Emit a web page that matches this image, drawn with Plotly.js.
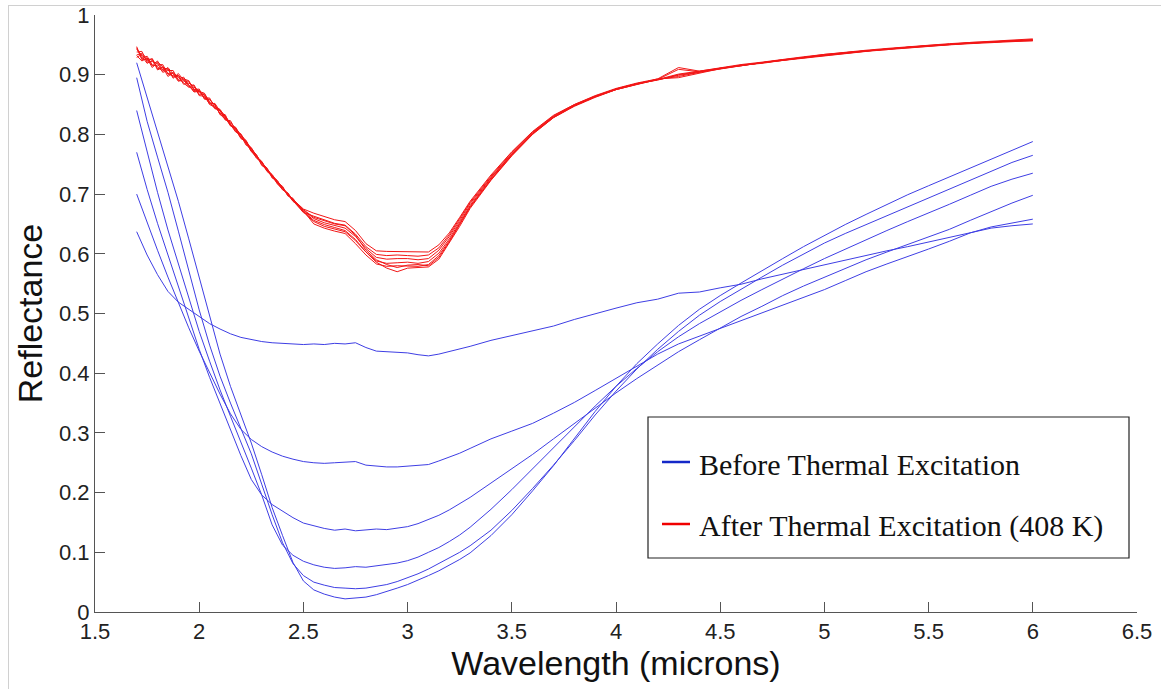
<!DOCTYPE html>
<html>
<head>
<meta charset="utf-8">
<script src="https://cdn.plot.ly/plotly-3.0.1.min.js"></script>
<style>
html,body{margin:0;padding:0;background:#fff;}
#wrap{position:relative;width:1161px;height:689px;overflow:hidden;}
#chart{position:absolute;left:0;top:0;width:1161px;height:689px;}
#frame{position:absolute;left:8px;top:5px;width:1200px;height:760px;border-left:1px solid #d0d0d0;border-top:1px solid #d0d0d0;pointer-events:none;}
</style>
</head>
<body>
<div id="wrap"><div id="chart"></div><div id="frame"></div></div>
<script>
// Wavelength grid for the "before" spectra (microns)
const wavelength = [1.70,1.75,1.80,1.85,1.90,1.95,2.00,2.05,2.10,2.15,2.20,2.25,2.30,2.35,2.40,2.45,2.50,2.55,2.60,2.65,2.70,2.75,2.80,2.85,2.90,2.95,3.00,3.05,3.10,3.15,3.20,3.25,3.30,
  3.40,3.50,3.60,3.70,3.80,3.90,4.00,4.10,4.20,4.30,4.40,4.50,4.60,4.70,4.80,4.90,5.00,5.10,5.20,5.30,5.40,5.50,5.60,5.70,5.80,5.90,6.00];

// Wavelength grid for the "after" spectra (finer where the data are noisy)
const wavelengthAfter = [1.700,1.725,1.750,1.775,1.800,1.825,1.850,1.875,1.900,1.925,1.950,1.975,2.000,2.025,2.050,2.075,2.100,2.125,2.150,2.175,2.200,2.225,2.250,2.275,2.300,2.325,2.350,2.375,2.400,2.425,2.450,2.475,2.500,
  2.55,2.60,2.65,2.70,2.75,2.80,2.85,2.90,2.95,3.00,3.05,3.10,3.15,3.20,3.25,3.30,
  3.40,3.50,3.60,3.70,3.80,3.90,4.00,4.10,4.20,4.30,4.40,4.50,4.60,4.70,4.80,4.90,5.00,5.10,5.20,5.30,5.40,5.50,5.60,5.70,5.80,5.90,6.00];

// Before thermal excitation (blue)
const before1 = [0.637,0.598,0.565,0.537,0.519,0.507,0.494,0.483,0.474,0.466,0.460,0.456,0.453,0.451,0.450,0.449,0.448,0.449,0.448,0.450,0.449,0.451,0.443,0.437,0.436,0.434,0.434,0.431,0.429,0.432,0.436,0.441,0.445,
  0.455,0.463,0.470,0.479,0.490,0.500,0.509,0.518,0.524,0.534,0.536,0.543,0.549,0.558,0.566,0.574,0.582,0.590,0.598,0.605,0.612,0.620,0.628,0.636,0.643,0.647,0.650];
const before2 = [0.700,0.652,0.606,0.561,0.517,0.476,0.437,0.400,0.365,0.332,0.306,0.289,0.277,0.268,0.261,0.256,0.252,0.250,0.249,0.250,0.251,0.252,0.246,0.244,0.243,0.243,0.244,0.245,0.247,0.253,0.259,0.266,0.274,
  0.290,0.303,0.316,0.333,0.351,0.371,0.391,0.412,0.432,0.449,0.462,0.475,0.488,0.500,0.513,0.526,0.540,0.555,0.570,0.583,0.595,0.608,0.621,0.635,0.645,0.652,0.658];
const before3 = [0.770,0.708,0.651,0.598,0.547,0.492,0.440,0.393,0.349,0.305,0.262,0.222,0.196,0.180,0.169,0.158,0.149,0.144,0.140,0.137,0.139,0.136,0.137,0.139,0.138,0.140,0.143,0.148,0.155,0.162,0.171,0.181,0.192,
  0.216,0.240,0.264,0.290,0.316,0.342,0.367,0.391,0.414,0.436,0.456,0.476,0.495,0.512,0.530,0.546,0.561,0.576,0.590,0.603,0.616,0.628,0.641,0.656,0.671,0.685,0.698];
const before4 = [0.840,0.770,0.703,0.640,0.582,0.525,0.470,0.420,0.372,0.328,0.286,0.241,0.196,0.146,0.112,0.095,0.085,0.079,0.075,0.073,0.074,0.076,0.075,0.077,0.080,0.082,0.086,0.092,0.100,0.108,0.118,0.129,0.142,
  0.172,0.205,0.240,0.275,0.310,0.345,0.378,0.408,0.436,0.461,0.483,0.503,0.522,0.540,0.558,0.575,0.592,0.608,0.624,0.639,0.654,0.668,0.683,0.698,0.713,0.725,0.735];
const before5 = [0.895,0.822,0.762,0.703,0.638,0.572,0.506,0.447,0.395,0.350,0.308,0.265,0.214,0.163,0.116,0.081,0.061,0.050,0.045,0.041,0.040,0.039,0.040,0.043,0.046,0.051,0.057,0.064,0.072,0.081,0.090,0.100,0.111,
  0.137,0.170,0.207,0.246,0.287,0.330,0.370,0.407,0.440,0.470,0.497,0.520,0.541,0.561,0.581,0.600,0.618,0.634,0.649,0.664,0.679,0.694,0.709,0.724,0.739,0.753,0.765];
const before6 = [0.920,0.862,0.805,0.748,0.688,0.625,0.560,0.495,0.432,0.378,0.330,0.283,0.230,0.175,0.128,0.083,0.052,0.037,0.030,0.025,0.022,0.023,0.025,0.029,0.034,0.040,0.046,0.053,0.061,0.069,0.078,0.088,0.099,
  0.128,0.163,0.203,0.245,0.290,0.336,0.378,0.416,0.449,0.480,0.507,0.530,0.551,0.572,0.592,0.612,0.631,0.649,0.666,0.683,0.699,0.714,0.729,0.744,0.758,0.773,0.788];

// After thermal excitation, 408 K (red)
const after1 = [0.945,0.927,0.931,0.916,0.923,0.908,0.910,0.894,0.902,0.891,0.880,0.883,0.867,0.868,0.853,0.851,0.833,0.831,0.819,0.805,0.801,0.784,0.778,0.762,0.755,0.739,0.732,0.719,0.713,0.698,0.691,0.683,0.675,
  0.668,0.662,0.657,0.654,0.639,0.617,0.605,0.604,0.604,0.603,0.604,0.603,0.615,0.635,0.661,0.688,
  0.732,0.771,0.805,0.832,0.850,0.865,0.877,0.886,0.893,0.912,0.906,0.911,0.916,0.921,0.925,0.929,0.934,0.937,0.940,0.943,0.947,0.949,0.951,0.954,0.955,0.957,0.959];
const after2 = [0.929,0.934,0.923,0.927,0.910,0.913,0.897,0.904,0.892,0.896,0.883,0.872,0.874,0.861,0.861,0.844,0.840,0.824,0.823,0.807,0.794,0.790,0.773,0.766,0.748,0.743,0.731,0.717,0.708,0.702,0.689,0.679,0.669,
  0.663,0.657,0.651,0.648,0.633,0.612,0.599,0.597,0.598,0.597,0.596,0.598,0.610,0.632,0.658,0.686,
  0.730,0.770,0.804,0.831,0.850,0.864,0.876,0.885,0.892,0.909,0.905,0.911,0.916,0.920,0.925,0.929,0.933,0.937,0.940,0.943,0.946,0.949,0.951,0.953,0.955,0.957,0.958];
const after3 = [0.938,0.939,0.921,0.922,0.919,0.904,0.907,0.907,0.890,0.889,0.889,0.875,0.876,0.859,0.858,0.849,0.835,0.833,0.814,0.810,0.798,0.782,0.777,0.765,0.751,0.744,0.727,0.722,0.710,0.699,0.692,0.680,0.673,
  0.659,0.652,0.648,0.643,0.629,0.609,0.594,0.591,0.592,0.592,0.590,0.592,0.606,0.629,0.656,0.684,
  0.728,0.768,0.803,0.830,0.849,0.864,0.876,0.885,0.891,0.900,0.905,0.910,0.916,0.920,0.924,0.929,0.933,0.936,0.940,0.943,0.946,0.949,0.951,0.953,0.955,0.956,0.958];
const after4 = [0.932,0.923,0.928,0.915,0.916,0.917,0.901,0.898,0.899,0.884,0.886,0.881,0.865,0.864,0.851,0.852,0.839,0.826,0.815,0.812,0.795,0.787,0.771,0.764,0.754,0.738,0.731,0.723,0.708,0.701,0.688,0.682,0.670,
  0.654,0.646,0.642,0.637,0.622,0.603,0.588,0.584,0.585,0.586,0.584,0.587,0.601,0.625,0.653,0.681,
  0.727,0.767,0.802,0.829,0.848,0.863,0.875,0.884,0.892,0.897,0.904,0.911,0.915,0.920,0.925,0.928,0.933,0.937,0.940,0.942,0.946,0.948,0.951,0.953,0.954,0.957,0.957];
const after5 = [0.943,0.931,0.919,0.924,0.913,0.906,0.912,0.901,0.889,0.893,0.890,0.874,0.871,0.866,0.850,0.846,0.842,0.829,0.816,0.804,0.800,0.789,0.774,0.760,0.753,0.742,0.728,0.720,0.712,0.697,0.693,0.680,0.672,
  0.650,0.643,0.638,0.634,0.617,0.598,0.583,0.579,0.580,0.580,0.579,0.582,0.597,0.622,0.650,0.679,
  0.725,0.766,0.801,0.829,0.848,0.863,0.875,0.884,0.893,0.895,0.903,0.910,0.916,0.919,0.924,0.929,0.932,0.936,0.939,0.943,0.945,0.948,0.950,0.953,0.955,0.956,0.957];
const after6 = [0.933,0.936,0.927,0.912,0.921,0.914,0.902,0.903,0.896,0.886,0.879,0.879,0.873,0.860,0.859,0.849,0.834,0.825,0.821,0.809,0.793,0.788,0.776,0.765,0.749,0.740,0.733,0.721,0.707,0.702,0.690,0.683,0.674,
  0.661,0.655,0.650,0.647,0.631,0.606,0.590,0.582,0.577,0.581,0.582,0.580,0.594,0.620,0.648,0.678,
  0.724,0.765,0.801,0.828,0.848,0.863,0.876,0.885,0.892,0.901,0.906,0.912,0.917,0.921,0.926,0.930,0.934,0.938,0.941,0.944,0.947,0.950,0.952,0.954,0.956,0.958,0.960];
const after7 = [0.947,0.925,0.926,0.926,0.908,0.912,0.909,0.896,0.898,0.893,0.882,0.871,0.872,0.869,0.854,0.843,0.841,0.830,0.815,0.811,0.799,0.785,0.772,0.761,0.754,0.742,0.729,0.718,0.711,0.700,0.688,0.681,0.671,
  0.656,0.649,0.644,0.639,0.624,0.603,0.586,0.576,0.570,0.576,0.577,0.578,0.591,0.618,0.646,0.676,
  0.723,0.764,0.800,0.828,0.847,0.862,0.875,0.884,0.891,0.899,0.904,0.910,0.915,0.920,0.924,0.928,0.932,0.936,0.939,0.942,0.945,0.948,0.950,0.952,0.954,0.956,0.957];

const xTicks = [1.5,2,2.5,3,3.5,4,4.5,5,5.5,6,6.5];
const yTicks = [0,0.1,0.2,0.3,0.4,0.5,0.6,0.7,0.8,0.9,1];
const legendLabels = ['Before Thermal Excitation', 'After Thermal Excitation (408 K)'];

const blueSeries = [before1, before2, before3, before4, before5, before6];
const redSeries = [after1, after2, after3, after4, after5, after6, after7];
const BLUE = 'rgb(62,62,228)';
const RED = 'rgb(242,22,22)';

const traces = [];
blueSeries.forEach(s => traces.push({x: wavelength, y: s, type: 'scatter', mode: 'lines',
  line: {color: BLUE, width: 1}, showlegend: false, hoverinfo: 'skip'}));
redSeries.forEach(s => traces.push({x: wavelengthAfter, y: s, type: 'scatter', mode: 'lines',
  line: {color: RED, width: 1}, showlegend: false, hoverinfo: 'skip'}));

const L = 95, R = 1137, T = 15, B = 612;
const px = v => (v - L) / (R - L);
const py = v => (B - v) / (B - T);

const layout = {
  width: 1161, height: 689,
  margin: {l: L, r: 1161 - R, t: T, b: 689 - B, pad: 0},
  paper_bgcolor: '#fff', plot_bgcolor: '#fff',
  showlegend: false,
  font: {family: '"Liberation Sans", Arial, sans-serif', color: '#222'},
  xaxis: {
    range: [1.5, 6.5], tickvals: xTicks, ticktext: xTicks.map(String),
    showline: true, linecolor: '#555', linewidth: 1, mirror: false,
    ticks: 'inside', ticklen: 10, tickcolor: '#555', tickwidth: 1,
    showgrid: false, zeroline: false,
    tickfont: {size: 22, color: '#222'},
    title: {text: 'Wavelength (microns)', font: {size: 34, color: '#111'}, standoff: 2}
  },
  yaxis: {
    range: [0, 1], tickvals: yTicks, ticktext: yTicks.map(String),
    showline: true, linecolor: '#555', linewidth: 1, mirror: false,
    ticks: 'inside', ticklen: 10, tickcolor: '#555', tickwidth: 1,
    showgrid: false, zeroline: false,
    tickfont: {size: 22, color: '#222'},
    title: {text: 'Reflectance', font: {size: 34, color: '#111'}, standoff: 6}
  },
  shapes: [
    {type: 'rect', xref: 'paper', yref: 'paper', x0: px(648), x1: px(1129), y0: py(558), y1: py(417),
     line: {color: '#222', width: 1.2}, fillcolor: '#fff', layer: 'above'},
    {type: 'line', xref: 'paper', yref: 'paper', x0: px(662), x1: px(690), y0: py(462), y1: py(462),
     line: {color: 'rgb(20,40,200)', width: 2.5}, layer: 'above'},
    {type: 'line', xref: 'paper', yref: 'paper', x0: px(662), x1: px(690), y0: py(524), y1: py(524),
     line: {color: 'rgb(240,0,0)', width: 2.5}, layer: 'above'}
  ],
  annotations: [
    {xref: 'paper', yref: 'paper', x: px(697), y: py(464), xanchor: 'left', yanchor: 'middle',
     text: legendLabels[0], showarrow: false,
     font: {family: '"Liberation Serif", "Times New Roman", serif', size: 30, color: '#111'}},
    {xref: 'paper', yref: 'paper', x: px(697), y: py(526), xanchor: 'left', yanchor: 'middle',
     text: legendLabels[1], showarrow: false,
     font: {family: '"Liberation Serif", "Times New Roman", serif', size: 30, color: '#111'}}
  ]
};

Plotly.newPlot('chart', traces, layout, {displayModeBar: false, staticPlot: true});
</script>
</body>
</html>
